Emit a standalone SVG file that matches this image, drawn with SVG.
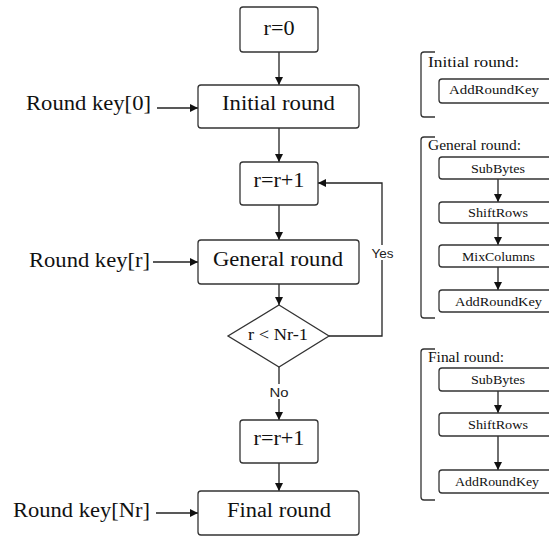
<svg xmlns="http://www.w3.org/2000/svg" width="549" height="536" viewBox="0 0 549 536">
<defs>
<style>
.box{fill:#fff;stroke:#333;stroke-width:1.3}
.ln{fill:none;stroke:#222;stroke-width:1.3}
.t{font-family:"Liberation Serif","Times New Roman",serif;fill:#111}
.big{font-size:20px}
.mid{font-size:16px}
.sm{font-size:15px}
.xs{font-size:13.5px}
.sans{font-family:"Liberation Sans",Arial,sans-serif;font-size:12.5px;fill:#222}
.br{fill:none;stroke:#333;stroke-width:1.3}
</style>
<marker id="ah" viewBox="0 0 10 10" refX="10" refY="5" markerWidth="9" markerHeight="8" markerUnits="userSpaceOnUse" orient="auto">
<path d="M0,0 L10,5 L0,10 Z" fill="#111"/>
</marker>
</defs>

<g id="connectors">
<line class="ln" x1="279" y1="52" x2="279" y2="85" marker-end="url(#ah)"/>
<line class="ln" x1="279" y1="128" x2="279" y2="162" marker-end="url(#ah)"/>
<line class="ln" x1="279" y1="205" x2="279" y2="240" marker-end="url(#ah)"/>
<line class="ln" x1="279" y1="284" x2="279" y2="305" marker-end="url(#ah)"/>
<line class="ln" x1="279" y1="367" x2="279" y2="420" marker-end="url(#ah)"/>
<line class="ln" x1="279" y1="463" x2="279" y2="491" marker-end="url(#ah)"/>
<polyline class="ln" points="329,336 382,336 382,183 318,183" marker-end="url(#ah)"/>
<line class="ln" x1="157" y1="108" x2="198" y2="108" marker-end="url(#ah)"/>
<line class="ln" x1="153" y1="262" x2="198" y2="262" marker-end="url(#ah)"/>
<line class="ln" x1="156" y1="513" x2="198" y2="513" marker-end="url(#ah)"/>
<rect x="370" y="245" width="25" height="15" fill="#fff"/>
<text class="sans" x="382.5" y="257.5" text-anchor="middle" textLength="22" lengthAdjust="spacingAndGlyphs">Yes</text>
<rect x="267" y="384" width="24" height="15" fill="#fff"/>
<text class="sans" x="279" y="397" text-anchor="middle" textLength="19" lengthAdjust="spacingAndGlyphs" style="font-size:13px">No</text>
<line class="ln" x1="498" y1="179" x2="498" y2="202" marker-end="url(#ah)"/>
<line class="ln" x1="498" y1="223" x2="498" y2="245" marker-end="url(#ah)"/>
<line class="ln" x1="498" y1="267" x2="498" y2="290" marker-end="url(#ah)"/>
<line class="ln" x1="498" y1="391" x2="498" y2="413" marker-end="url(#ah)"/>
<line class="ln" x1="498" y1="436" x2="498" y2="470" marker-end="url(#ah)"/>
</g>

<g id="n-r0">
<rect class="box" x="240" y="7" width="78" height="45" rx="3"/>
<text class="t big" x="279" y="35" text-anchor="middle" textLength="31" lengthAdjust="spacingAndGlyphs">r=0</text>
</g>
<g id="n-initial">
<rect class="box" x="198" y="85" width="161" height="43" rx="3"/>
<text class="t big" x="278.5" y="110" text-anchor="middle" textLength="113" lengthAdjust="spacingAndGlyphs">Initial round</text>
</g>
<g id="k-0">
<text class="t big" x="26" y="110" textLength="125" lengthAdjust="spacingAndGlyphs">Round key[0]</text>
</g>
<g id="n-inc1">
<rect class="box" x="240" y="162" width="78" height="43" rx="3"/>
<text class="t big" x="279" y="187" text-anchor="middle" textLength="51" lengthAdjust="spacingAndGlyphs">r=r+1</text>
</g>
<g id="n-general">
<rect class="box" x="198" y="240" width="161" height="44" rx="3"/>
<text class="t big" x="278" y="266" text-anchor="middle" textLength="130" lengthAdjust="spacingAndGlyphs">General round</text>
</g>
<g id="k-r">
<text class="t big" x="29" y="267" textLength="121" lengthAdjust="spacingAndGlyphs">Round key[r]</text>
</g>
<g id="n-cond">
<polygon class="box" points="279,305 329,336 279,367 228,336"/>
<text class="t mid" x="278" y="340" text-anchor="middle" textLength="60" lengthAdjust="spacingAndGlyphs">r &lt; Nr-1</text>
</g>
<g id="n-inc2">
<rect class="box" x="240" y="420" width="78" height="43" rx="3"/>
<text class="t big" x="279" y="445" text-anchor="middle" textLength="51" lengthAdjust="spacingAndGlyphs">r=r+1</text>
</g>
<g id="n-final">
<rect class="box" x="198" y="491" width="161" height="44" rx="3"/>
<text class="t big" x="279" y="517" text-anchor="middle" textLength="104" lengthAdjust="spacingAndGlyphs">Final round</text>
</g>
<g id="k-nr">
<text class="t big" x="13" y="517" textLength="137" lengthAdjust="spacingAndGlyphs">Round key[Nr]</text>
</g>

<g id="legend-initial">
<path class="br" d="M435,52 L424,52 Q421,52 421,55 L421,114 Q421,117 424,117 L435,117"/>
<text class="t sm" x="428" y="67" textLength="91" lengthAdjust="spacingAndGlyphs">Initial round:</text>
<rect class="box" x="439" y="79" width="120" height="24" rx="3"/>
<text class="t xs" x="494" y="94" text-anchor="middle" textLength="90" lengthAdjust="spacingAndGlyphs">AddRoundKey</text>
</g>

<g id="legend-general">
<path class="br" d="M435,137 L424,137 Q421,137 421,140 L421,315 Q421,318 424,318 L435,318"/>
<text class="t sm" x="428" y="150" textLength="93" lengthAdjust="spacingAndGlyphs">General round:</text>
<g id="g-subbytes">
<rect class="box" x="439" y="157" width="120" height="22" rx="3"/>
<text class="t xs" x="498" y="172.5" text-anchor="middle" textLength="54" lengthAdjust="spacingAndGlyphs">SubBytes</text>
</g>
<g id="g-shiftrows">
<rect class="box" x="439" y="202" width="120" height="21" rx="3"/>
<text class="t xs" x="498" y="217" text-anchor="middle" textLength="60" lengthAdjust="spacingAndGlyphs">ShiftRows</text>
</g>
<g id="g-mixcolumns">
<rect class="box" x="439" y="245" width="120" height="22" rx="3"/>
<text class="t xs" x="498.5" y="260.5" text-anchor="middle" textLength="73" lengthAdjust="spacingAndGlyphs">MixColumns</text>
</g>
<g id="g-addroundkey">
<rect class="box" x="439" y="290" width="120" height="22" rx="3"/>
<text class="t xs" x="498.5" y="305.5" text-anchor="middle" textLength="87" lengthAdjust="spacingAndGlyphs">AddRoundKey</text>
</g>
</g>

<g id="legend-final">
<path class="br" d="M435,349 L424,349 Q421,349 421,352 L421,497 Q421,500 424,500 L435,500"/>
<text class="t sm" x="428" y="362" textLength="76" lengthAdjust="spacingAndGlyphs">Final round:</text>
<g id="f-subbytes">
<rect class="box" x="439" y="368" width="120" height="23" rx="3"/>
<text class="t xs" x="498" y="384" text-anchor="middle" textLength="54" lengthAdjust="spacingAndGlyphs">SubBytes</text>
</g>
<g id="f-shiftrows">
<rect class="box" x="439" y="413" width="120" height="23" rx="3"/>
<text class="t xs" x="498" y="429" text-anchor="middle" textLength="60" lengthAdjust="spacingAndGlyphs">ShiftRows</text>
</g>
<g id="f-addroundkey">
<rect class="box" x="439" y="470" width="120" height="23" rx="3"/>
<text class="t xs" x="497" y="486" text-anchor="middle" textLength="84" lengthAdjust="spacingAndGlyphs">AddRoundKey</text>
</g>
</g>
</svg>
